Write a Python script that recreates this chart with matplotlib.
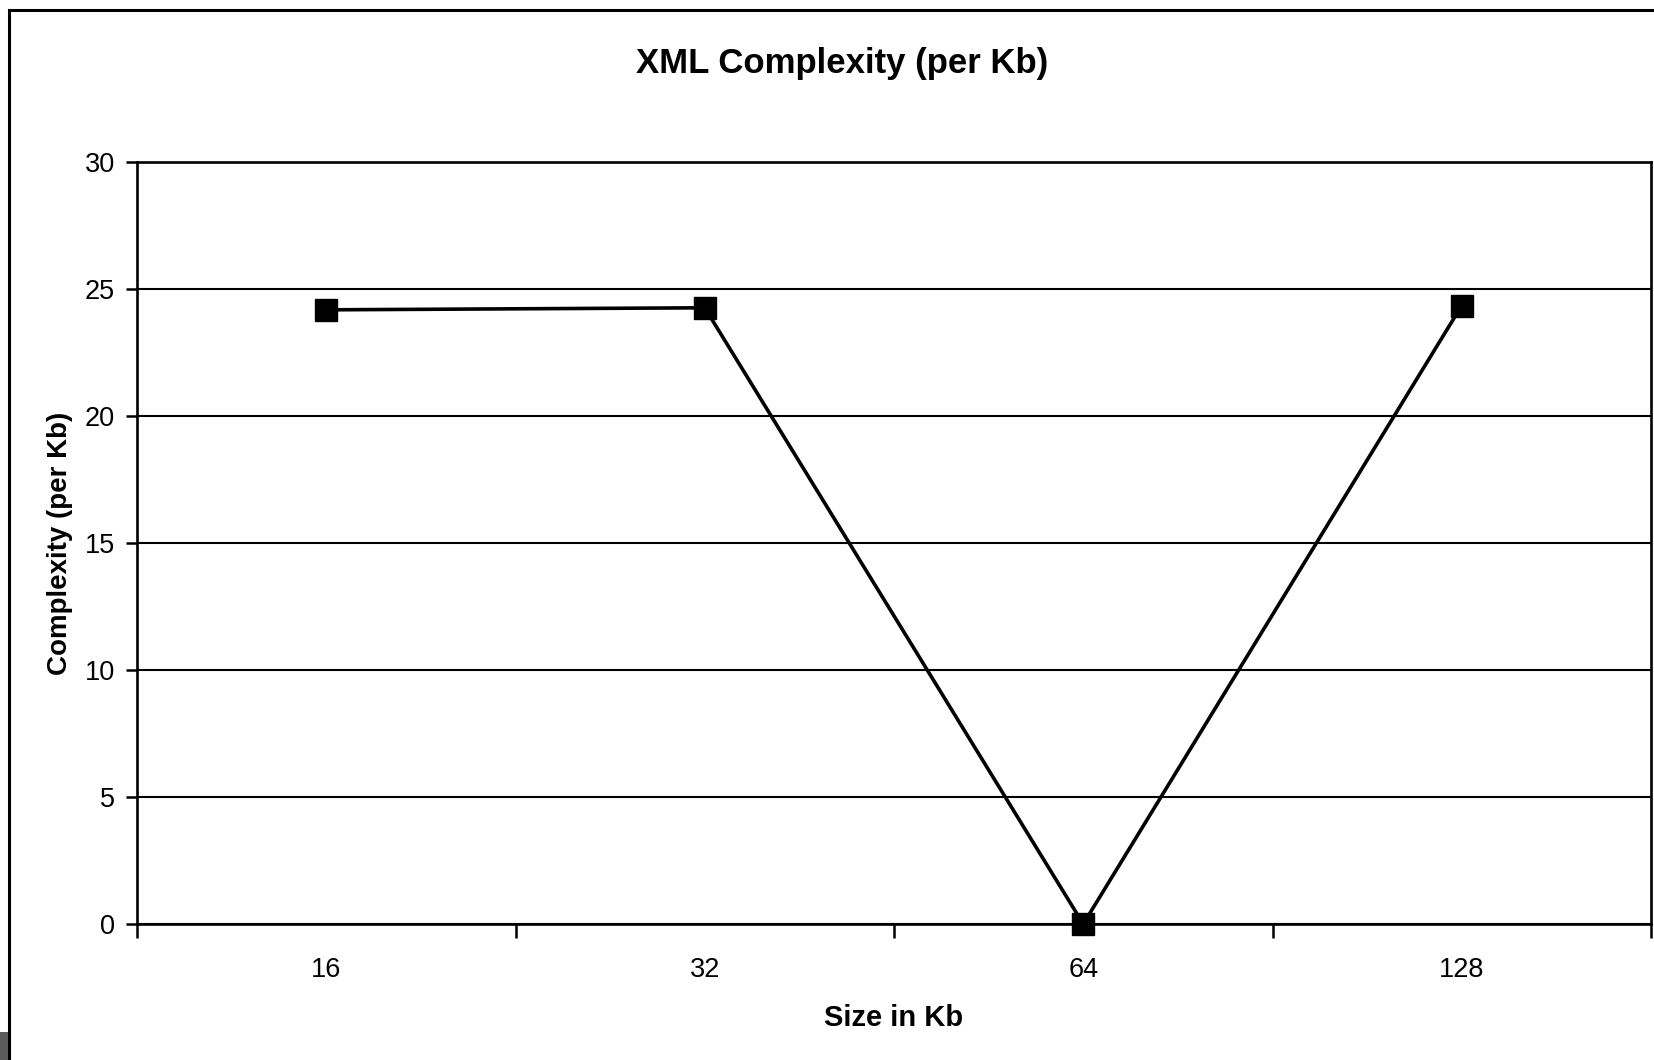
import matplotlib.pyplot as plt
from matplotlib.patches import Rectangle

# data
sizes = ['16', '32', '64', '128']
complexity = [24.18, 24.26, 0.0, 24.35]
y_ticks = [0, 5, 10, 15, 20, 25, 30]

plt.rcParams['font.family'] = ['Liberation Sans', 'DejaVu Sans']

fig = plt.figure(figsize=(16.54, 10.60), dpi=100)
ax = fig.add_axes([137 / 1654, 1 - 924 / 1060, (1651 - 137) / 1654, (924 - 162) / 1060])

# outer chart border and the grey strip at bottom left
fig.patches.append(Rectangle((9 / 1654, -0.05), 1.1, 1 - 10 / 1060 + 0.05,
                             transform=fig.transFigure, fill=False,
                             edgecolor='black', linewidth=2.2, zorder=0))
fig.patches.append(Rectangle((0, 0), 8 / 1654, 28 / 1060,
                             transform=fig.transFigure, facecolor='#5a5a5a',
                             edgecolor='none', zorder=1))

x = list(range(len(sizes)))
ax.plot(x, complexity, color='black', linewidth=2.6, marker='s',
        markersize=16, markerfacecolor='black', clip_on=False, zorder=5)

ax.set_xlim(-0.5, len(sizes) - 0.5)
ax.set_ylim(0, 30)
ax.set_yticks(y_ticks)
ax.set_xticks(x)
ax.set_xticklabels(sizes)
ax.set_xticks([i - 0.5 for i in range(len(sizes) + 1)], minor=True)

ax.grid(axis='y', color='black', linewidth=1.5)
ax.set_axisbelow(True)
for side in ['left', 'bottom', 'top', 'right']:
    ax.spines[side].set_linewidth(1.9)
    ax.spines[side].set_color('black')

ax.tick_params(axis='y', length=8, width=1.8, pad=8, labelsize=19.5)
ax.tick_params(axis='x', which='major', length=0, pad=24, labelsize=19.5)
ax.tick_params(axis='x', which='minor', length=10, width=1.8)

ax.set_xlabel('Size in Kb', fontsize=21, fontweight='bold', labelpad=15)
ax.set_ylabel('Complexity (per Kb)', fontsize=20, fontweight='bold', labelpad=8)
fig.text(842 / 1654, 1 - 63 / 1060, 'XML Complexity (per Kb)',
         ha='center', va='center', fontsize=25, fontweight='bold')

fig.savefig('out.png', dpi=100)
